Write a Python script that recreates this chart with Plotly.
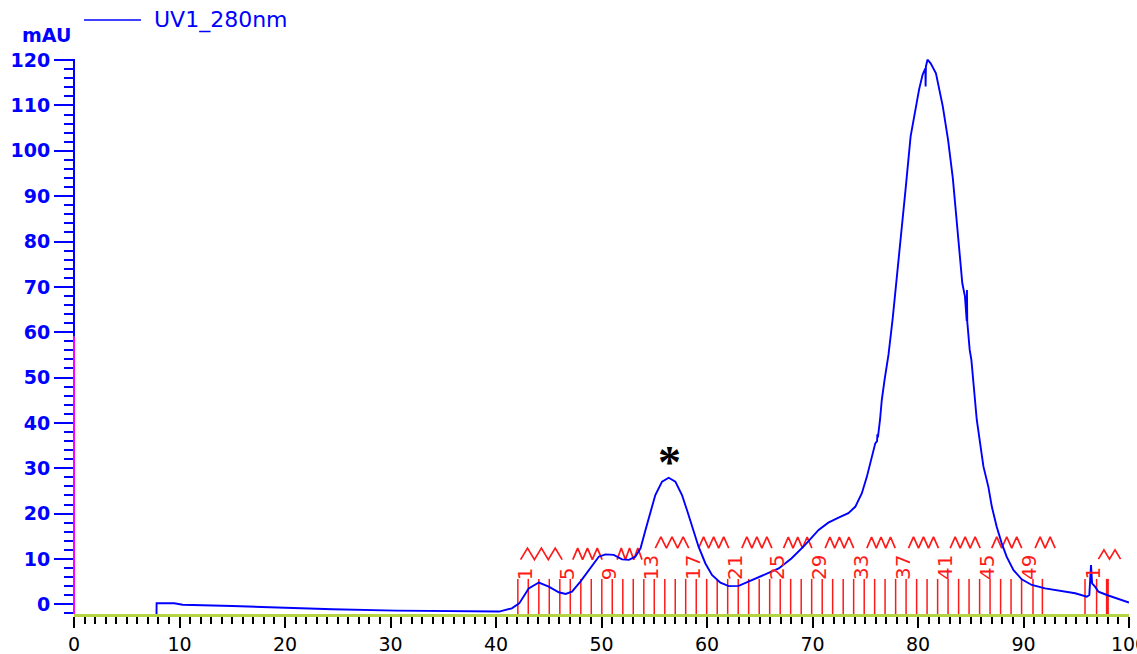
import plotly.graph_objects as go

# ---- UV trace (elution volume in ml, absorbance in mAU) ----
VOLUME_ML = [
    7.82, 7.83, 9.5, 10.3, 15.0, 19.7, 24.5, 30.5, 35.0, 40.3, 41.5, 42.2, 43.1, 44.06,
    45.0, 45.95, 46.6, 47.2, 48.0, 48.96, 49.74, 50.38, 51.16, 51.95, 52.6, 53.2, 53.7,
    54.17, 54.64, 55.1, 55.74, 56.37, 57.0, 57.63, 58.1, 58.58, 59.2, 59.85, 60.47, 61.27,
    62.06, 63.0, 64.26, 65.5, 66.8, 68.0, 69.3, 70.58, 71.5, 72.47, 73.4, 74.05, 74.68,
    75.15, 75.57, 75.95, 76.12, 76.15, 76.2, 76.4, 76.57, 76.83, 77.2, 77.6, 78.0, 78.4,
    78.8, 79.3, 79.77, 80.1, 80.44, 80.7, 80.72, 80.75, 80.9, 81.2, 81.7, 82.03, 82.35,
    82.7, 82.85, 83.3, 83.65, 84.0, 84.2, 84.45, 84.55, 84.62, 84.64, 84.67, 84.9, 85.06,
    85.57, 85.9, 86.2, 86.67, 87.0, 87.46, 87.93, 88.4, 89.04, 89.83, 90.78, 92.05, 93.6,
    94.9, 96.0, 96.24, 96.4, 96.5, 96.78, 97.1, 97.9, 98.8, 99.75, 100.0,
]
UV_MAU = [
    -2.2, 0.22, 0.22, -0.1, -0.37, -0.75, -1.1, -1.4, -1.5, -1.6, -0.9, 0.2, 3.5, 4.8,
    3.9, 2.65, 2.27, 2.8, 5.0, 7.9, 10.5, 11.0, 10.9, 9.9, 9.8, 10.5, 12.35,
    16.4, 20.4, 24.1, 27.05, 27.9, 27.05, 24.1, 20.8, 17.1, 12.7, 9.0, 6.46, 4.77,
    4.0, 4.07, 5.36, 6.46, 7.9, 10.1, 13.1, 16.4, 18.0, 19.1, 20.1, 21.5, 24.5,
    28.1, 31.8, 35.5, 36.0, 37.5, 36.8, 40.7, 45.1, 49.5, 55.0, 63.0, 72.0, 81.0,
    91.0, 103.2, 109.8, 113.5, 116.8, 118.2, 114.2, 118.6, 120.1, 119.3, 117.1, 113.5, 109.8,
    104.6, 102.4, 94.0, 85.0, 76.0, 70.8, 67.9, 64.9, 62.5, 69.3, 62.3, 56.1, 53.9,
    40.7, 35.5, 30.4, 25.9, 21.5, 17.1, 13.5, 10.5, 7.57, 5.5, 4.26, 3.5, 2.93,
    2.43, 1.68, 2.05, 8.67, 4.63, 3.9, 2.78, 2.05, 1.32, 0.57, 0.4,
]

# ---- fraction collection marks (ml) ----
FRACTION_ML = [
    42.07, 43.06, 44.06, 45.05, 46.05, 47.04, 48.04, 49.03, 50.03, 51.02,
    52.02, 53.01, 54.01, 55.00, 56.00, 56.99, 57.98, 58.98, 59.97, 60.97,
    61.96, 62.96, 63.95, 64.95, 65.94, 66.94, 67.93, 68.93, 69.92, 70.92,
    71.91, 72.91, 73.90, 74.90, 75.89, 76.88, 77.88, 78.87, 79.87, 80.86,
    81.86, 82.85, 83.85, 84.84, 85.84, 86.83, 87.83, 88.82, 89.82, 90.90,
    91.79,
]
FRACTION_NUMBERS = [1, 5, 9, 13, 17, 21, 25, 29, 33, 37, 41, 45, 49]
RUN2_FRACTION_ML = [95.83, 96.93]
RUN2_NUMBERS = [1]
RUN2_END_ML = 97.95

# waste/logbook zigzag marks: (start ml, end ml, number of peaks, row)
ZIGZAG_MARKS = [
    (42.33, 46.27, 3, 0), (47.28, 50.06, 3, 0), (51.48, 53.84, 3, 0),
    (55.10, 58.27, 3, 1), (59.20, 62.06, 3, 1), (63.30, 66.15, 3, 1),
    (67.26, 69.94, 3, 1), (71.20, 73.90, 3, 1), (75.15, 77.84, 3, 1),
    (79.10, 81.94, 3, 1), (83.05, 85.89, 3, 1), (86.99, 89.83, 3, 1),
    (91.10, 93.00, 2, 1), (97.10, 99.20, 2, 2),
]
ZIGZAG_ROWS = [(9.85, 12.4), (12.4, 14.85), (9.95, 12.0)]

X_TICKS = list(range(0, 101, 10))
Y_TICKS = list(range(0, 121, 10))

X_MIN, X_MAX = 0, 100
Y_MIN, Y_MAX = -2.14, 120.25
FRAC_TOP = 5.6
AXIS_SPLIT = 59.0

BLUE = "#0000ff"
RED = "#ff1a1a"
MAGENTA = "#ff00ff"
AXIS_GREEN = "#b4d444"

W, H = 1137, 654
ML, MR, MT, MB = 74, 8, 59, 40
PW, PH = W - ML - MR, H - MT - MB


def px_to_paper(px, py):
    return (px - ML) / PW, (H - MB - py) / PH


def y_to_paper(v):
    return (v - Y_MIN) / (Y_MAX - Y_MIN)


fig = go.Figure()

# fraction tick lines
fx, fy = [], []
for v in FRACTION_ML + RUN2_FRACTION_ML:
    fx += [v, v, None]
    fy += [Y_MIN, FRAC_TOP, None]
fig.add_trace(go.Scatter(x=fx, y=fy, mode="lines", line=dict(color=RED, width=1.5),
                         hoverinfo="skip", showlegend=False))
fig.add_trace(go.Scatter(x=[RUN2_END_ML, RUN2_END_ML], y=[Y_MIN, FRAC_TOP], mode="lines",
                         line=dict(color=RED, width=3), hoverinfo="skip", showlegend=False))

# zigzag marks
zx, zy = [], []
for x0, x1, n, row in ZIGZAG_MARKS:
    lo, hi = ZIGZAG_ROWS[row]
    step = (x1 - x0) / n
    for i in range(n):
        zx += [x0 + i * step, x0 + (i + 0.5) * step]
        zy += [lo, hi]
    zx += [x1, None]
    zy += [lo, None]
fig.add_trace(go.Scatter(x=zx, y=zy, mode="lines", line=dict(color=RED, width=1.7),
                         hoverinfo="skip", showlegend=False))

# UV curve
fig.add_trace(go.Scatter(x=VOLUME_ML, y=UV_MAU, mode="lines", name="UV1_280nm",
                         line=dict(color=BLUE, width=1.9), showlegend=False))

label_font = dict(family="DejaVu Sans", size=20, color=RED)
annotations = []
for n in FRACTION_NUMBERS:
    annotations.append(dict(x=FRACTION_ML[n - 1], y=FRAC_TOP, xref="x", yref="y",
                            text=str(n), textangle=-90, showarrow=False,
                            xanchor="center", yanchor="bottom", xshift=8, yshift=-3,
                            font=label_font))
for i, n in enumerate(RUN2_NUMBERS):
    annotations.append(dict(x=RUN2_FRACTION_ML[i], y=FRAC_TOP, xref="x", yref="y",
                            text=str(n), textangle=-90, showarrow=False,
                            xanchor="center", yanchor="bottom", xshift=8, yshift=-3,
                            font=label_font))

# peak marker
annotations.append(dict(x=56.4, y=33.4, xref="x", yref="y", text="<b>*</b>", showarrow=False,
                        xanchor="center", yanchor="middle", yshift=-10,
                        font=dict(family="Liberation Serif", size=46, color="black")))

# legend and unit label
lx, ly = px_to_paper(152, 20)
annotations.append(dict(x=lx, y=ly, xref="paper", yref="paper", text="UV1_280nm",
                        showarrow=False, xanchor="left", yanchor="middle",
                        font=dict(family="DejaVu Sans", size=22, color=BLUE)))
ux, uy = px_to_paper(73, 35)
annotations.append(dict(x=ux, y=uy, xref="paper", yref="paper", text="<b>mAU</b>",
                        showarrow=False, xanchor="right", yanchor="middle",
                        font=dict(family="DejaVu Sans", size=19, color=BLUE)))

l0x, l0y = px_to_paper(84, 20)
l1x, _ = px_to_paper(141, 20)
split = y_to_paper(AXIS_SPLIT)
shapes = [
    dict(type="line", xref="paper", yref="paper", x0=l0x, x1=l1x, y0=l0y, y1=l0y,
         line=dict(color=BLUE, width=1.5)),
    # vertical axis line, two-tone
    dict(type="line", xref="paper", yref="paper", x0=0, x1=0, y0=split, y1=1,
         line=dict(color=BLUE, width=2)),
    dict(type="line", xref="paper", yref="paper", x0=0, x1=0, y0=0, y1=split,
         line=dict(color=MAGENTA, width=2)),
]

fig.update_layout(
    width=W, height=H,
    margin=dict(l=ML, r=MR, t=MT, b=MB, pad=0, autoexpand=False),
    paper_bgcolor="white", plot_bgcolor="white",
    showlegend=False,
    annotations=annotations,
    shapes=shapes,
    xaxis=dict(
        range=[X_MIN, X_MAX], tickvals=X_TICKS, ticktext=[str(t) for t in X_TICKS],
        automargin=False, ticklabeloverflow="allow",
        showgrid=False, zeroline=False,
        showline=True, linecolor=AXIS_GREEN, linewidth=2.5,
        ticks="outside", ticklen=11, tickwidth=2, tickcolor="black",
        tickfont=dict(family="DejaVu Sans", size=19, color="black"),
        minor=dict(dtick=1, tick0=0, ticks="outside", ticklen=7, tickwidth=1.5,
                   tickcolor="black", showgrid=False),
    ),
    yaxis=dict(
        range=[Y_MIN, Y_MAX], tickvals=Y_TICKS, ticktext=[str(t) for t in Y_TICKS],
        automargin=False,
        showgrid=False, zeroline=False, showline=False,
        ticks="outside", ticklen=19, tickwidth=1.5, tickcolor=BLUE,
        tickfont=dict(family="DejaVu Sans", size=19, color=BLUE, weight="bold"),
        minor=dict(dtick=2, tick0=0, ticks="outside", ticklen=9, tickwidth=1.5,
                   tickcolor=BLUE, showgrid=False),
    ),
)

fig.write_html("out.html")
